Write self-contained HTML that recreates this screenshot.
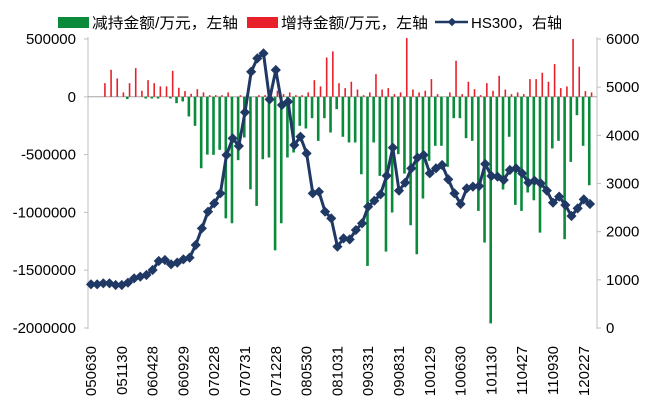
<!DOCTYPE html>
<html><head><meta charset="utf-8">
<style>
html,body{margin:0;padding:0;background:#fff;}
svg{display:block;font-family:"Liberation Sans","Noto Sans CJK SC",sans-serif;}
</style></head>
<body>
<svg id="chart" width="660" height="414" viewBox="0 0 660 414" xmlns="http://www.w3.org/2000/svg">
  <g>
    <rect x="58" y="17" width="31" height="11" fill="#0b8a3c"/>
    <text x="92" y="28" font-size="15" textLength="146" lengthAdjust="spacingAndGlyphs" fill="#000">减持金额/万元，左轴</text>
    <rect x="247" y="17" width="31" height="11" fill="#e8202a"/>
    <text x="281" y="28" font-size="15" textLength="147" lengthAdjust="spacingAndGlyphs" fill="#000">增持金额/万元，左轴</text>
    <line x1="435" y1="22" x2="468" y2="22" stroke="#1f3864" stroke-width="2.5"/>
    <rect x="449" y="19" width="6" height="6" fill="#1f3864" transform="rotate(45 452 22)"/>
    <text x="471" y="28" font-size="15" textLength="91" lengthAdjust="spacingAndGlyphs" fill="#000">HS300，右轴</text>
  </g>
  <g id="axes"></g>
  <g id="bars"></g>
  <g id="line"></g>
</svg>
<script>
const categories = ["050630","050729","050831","050930","051031","051130","051230","060126","060228","060331","060428","060531","060630","060731","060831","060929","061031","061130","061229","070131","070228","070330","070430","070531","070629","070731","070831","070928","071031","071130","071228","080131","080229","080331","080430","080530","080630","080731","080829","080926","081031","081128","081231","090123","090227","090331","090430","090527","090630","090731","090831","090930","091030","091130","091231","100129","100226","100331","100430","100531","100630","100730","100831","100930","101029","101130","101231","110131","110228","110331","110427","110531","110630","110729","110831","110930","111031","111130","111230","120131","120227","120330"];
const reduceValues = [0,0,0,0,0,0,-20000,0,0,-15000,-15000,-15000,0,-15000,-55000,-40000,-170000,-251000,-618000,-500000,-502000,-459000,-1051000,-1094000,-548000,-352000,-800000,-944000,-540000,-525000,-1328000,-1094000,-525000,-482000,-251000,-274000,-185000,-381000,-185000,-309000,-107000,-346000,-395000,-395000,-670000,-1463000,-395000,-684000,-1339000,-1001000,-496000,-664000,-1111000,-1362000,-880000,-554000,-424000,-424000,-606000,-185000,-185000,-358000,-381000,-987000,-1261000,-1960000,-713000,-802000,-346000,-935000,-987000,-828000,-895000,-1175000,-785000,-447000,-381000,-1232000,-563000,-159000,-424000,-765000];
const increaseValues = [0,0,118000,234000,159000,38000,118000,248000,52000,144000,118000,90000,90000,225000,78000,49000,26000,66000,38000,14000,14000,14000,38000,0,14000,14000,0,14000,14000,0,52000,23000,38000,14000,14000,38000,144000,90000,340000,393000,118000,75000,130000,63000,14000,38000,196000,63000,75000,23000,38000,508000,63000,38000,52000,153000,23000,0,38000,312000,23000,130000,66000,14000,118000,52000,182000,63000,23000,38000,23000,153000,153000,208000,130000,283000,75000,90000,500000,260000,49000,38000];
const hs300Values = [907,907,928,928,893,893,941,1031,1066,1100,1204,1391,1412,1322,1357,1426,1460,1723,2069,2415,2588,2796,3591,3938,3778,4478,5321,5598,5702,4747,5356,4630,4699,3799,3972,3626,2796,2830,2415,2277,1689,1861,1840,2034,2172,2519,2643,2775,3162,3744,2851,3017,3315,3536,3591,3211,3315,3384,3086,2796,2574,2900,2935,2948,3405,3156,3142,3073,3280,3315,3211,3017,3059,3003,2851,2602,2727,2554,2325,2484,2671,2574];
const leftTicks = [500000,0,-500000,-1000000,-1500000,-2000000];
const rightTicks = [6000,5000,4000,3000,2000,1000,0];

const NS="http://www.w3.org/2000/svg";
const plotL=88, plotR=597, plotT=39, plotB=328;
const step=6.16;
function xC(i){return 91+i*step;}
function yL(v){return plotT+(500000-v)/2500000*(plotB-plotT);}
function yR(v){return plotB-v/6000*(plotB-plotT);}
function mk(tag,attrs,parent){const e=document.createElementNS(NS,tag);for(const k in attrs)e.setAttribute(k,attrs[k]);parent.appendChild(e);return e;}

const axes=document.getElementById('axes');
let e;
e=mk('line',{x1:plotL,y1:plotT-2,x2:plotL,y2:plotB+1,stroke:'#bfbfbf','stroke-width':1},axes);


e=mk('line',{x1:plotR,y1:plotT-2,x2:plotR,y2:plotB+1,stroke:'#bfbfbf','stroke-width':1},axes);


leftTicks.forEach(v=>{
  const y=yL(v);
  const t=mk('line',{x1:plotL-4,y1:y,x2:plotL,y2:y,stroke:'#bfbfbf'},axes);
  
  
  const l=mk('text',{x:76,y:y+5,'font-size':15,'text-anchor':'end',fill:'#000'},axes);
  l.textContent=String(v);
  
  
});
rightTicks.forEach(v=>{
  const y=yR(v);
  const t=mk('line',{x1:plotR,y1:y,x2:plotR+4,y2:y,stroke:'#bfbfbf'},axes);
  
  
  const l=mk('text',{x:606,y:y+5,'font-size':15,'text-anchor':'start',fill:'#000'},axes);
  l.textContent=String(v);
  
  
});
e=mk('line',{x1:plotL,y1:yL(0),x2:plotR,y2:yL(0),stroke:'#a6a6a6','stroke-width':1},axes);


categories.forEach((c,i)=>{
  if(i%5!==0)return;
  const x=xC(i)+5;
  const l=mk('text',{x:x,y:346,'font-size':15,'text-anchor':'end',fill:'#000',transform:'rotate(-90 '+x+' 346)'},axes);
  l.textContent=c;
  
  
});

const bars=document.getElementById('bars');
reduceValues.forEach((v,i)=>{
  if(!v)return;
  const y0=yL(0), y1=yL(v);
  const r=mk('rect',{x:xC(i)-2,y:Math.min(y0,y1),width:2.6,height:Math.abs(y1-y0),fill:'#0b8a3c'},bars);
  
  
});
increaseValues.forEach((v,i)=>{
  if(!v)return;
  const y0=yL(0), y1=yL(v);
  const r=mk('rect',{x:xC(i)+0.8,y:Math.min(y0,y1),width:1.6,height:Math.abs(y1-y0),fill:'#e8202a'},bars);
  
  
});

const lg=document.getElementById('line');
const pts=hs300Values.map((v,i)=>xC(i).toFixed(1)+','+yR(v).toFixed(1)).join(' ');
e=mk('polyline',{points:pts,fill:'none',stroke:'#1f3864','stroke-width':3,'stroke-linejoin':'round'},lg);


hs300Values.forEach((v,i)=>{
  const x=xC(i), y=yR(v);
  const m=mk('rect',{x:x-3.6,y:y-3.6,width:7.2,height:7.2,fill:'#1f3864',transform:'rotate(45 '+x+' '+y+')'},lg);
  
  
});
</script>
</body></html>
